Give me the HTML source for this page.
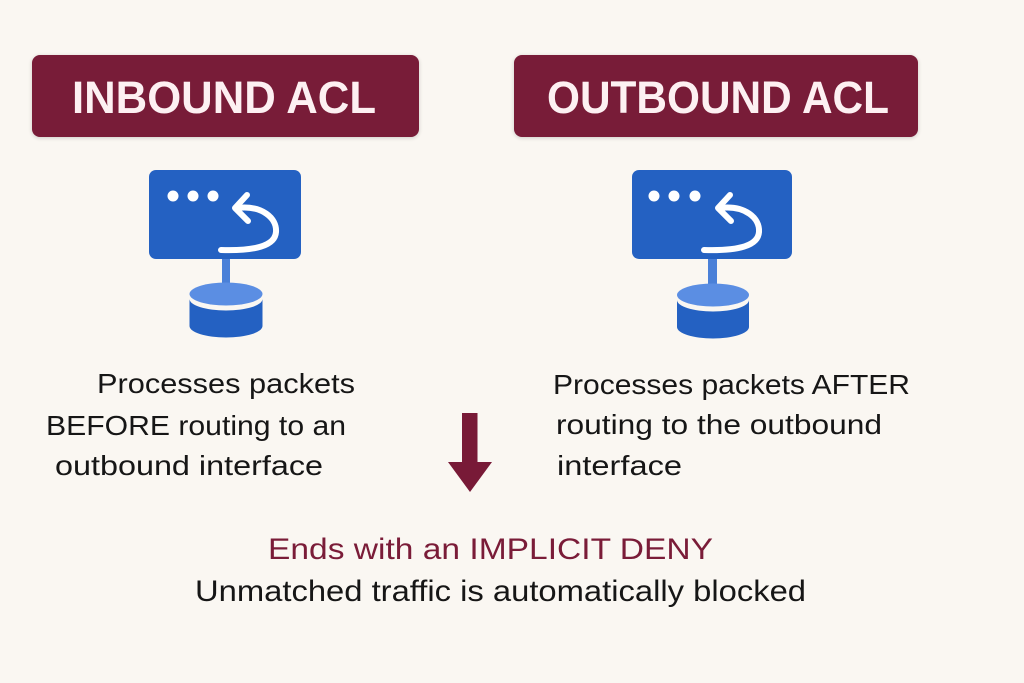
<!DOCTYPE html>
<html>
<head>
<meta charset="utf-8">
<style>
html,body{margin:0;padding:0;background:#faf7f2;}
svg{display:block;}
</style>
</head>
<body>
<svg width="1024" height="683" viewBox="0 0 1024 683" xmlns="http://www.w3.org/2000/svg">
  <defs>
    <filter id="sh" x="-5%" y="-10%" width="110%" height="130%">
      <feGaussianBlur in="SourceAlpha" stdDeviation="2"/>
      <feOffset dy="1"/>
      <feComponentTransfer><feFuncA type="linear" slope="0.18"/></feComponentTransfer>
      <feMerge><feMergeNode/><feMergeNode in="SourceGraphic"/></feMerge>
    </filter>
  </defs>
  <rect width="1024" height="683" fill="#faf7f2"/>

  <!-- Header boxes -->
  <rect x="32" y="55" width="387" height="82" rx="8" fill="#781a37" filter="url(#sh)"/>
  <text x="72" y="113" font-family="Liberation Sans, sans-serif" font-weight="bold" font-size="45" fill="#fdf0f2" textLength="304" lengthAdjust="spacingAndGlyphs">INBOUND ACL</text>

  <rect x="514" y="55" width="404" height="82" rx="8" fill="#781a37" filter="url(#sh)"/>
  <text x="547" y="113" font-family="Liberation Sans, sans-serif" font-weight="bold" font-size="45" fill="#fdf0f2" textLength="342" lengthAdjust="spacingAndGlyphs">OUTBOUND ACL</text>

  <!-- Left icon -->
  <rect x="222" y="255" width="8" height="33" fill="#4a80d8"/>
  <rect x="149" y="170" width="152" height="89" rx="7" fill="#2461c2"/>
  <circle cx="173" cy="196" r="5.5" fill="#fff"/>
  <circle cx="193" cy="196" r="5.5" fill="#fff"/>
  <circle cx="213" cy="196" r="5.5" fill="#fff"/>
  <path d="M237,208 C262,205 277,218 276,232 C275,246 255,251 221,250" fill="none" stroke="#fff" stroke-width="6" stroke-linecap="round"/>
  <path d="M247,195 L235,208 L248,221" fill="none" stroke="#fff" stroke-width="6" stroke-linecap="round" stroke-linejoin="round"/>
  <path d="M189.5,299 A36.5,11.5 0 0 0 262.5,299 L262.5,326 A36.5,11.5 0 0 1 189.5,326 Z" fill="#2461c2"/>
  <ellipse cx="226" cy="294" rx="36.5" ry="11.5" fill="#5b8ee3"/>

  <!-- Right icon -->
  <rect x="708" y="255" width="9" height="33" fill="#4a80d8"/>
  <rect x="632" y="170" width="160" height="89" rx="7" fill="#2461c2"/>
  <circle cx="654" cy="196" r="5.5" fill="#fff"/>
  <circle cx="674" cy="196" r="5.5" fill="#fff"/>
  <circle cx="695" cy="196" r="5.5" fill="#fff"/>
  <path d="M720,208 C745,205 760,218 759,232 C758,246 738,251 704,250" fill="none" stroke="#fff" stroke-width="6" stroke-linecap="round"/>
  <path d="M730,195 L718,208 L731,221" fill="none" stroke="#fff" stroke-width="6" stroke-linecap="round" stroke-linejoin="round"/>
  <path d="M677,300 A36,11.5 0 0 0 749,300 L749,327 A36,11.5 0 0 1 677,327 Z" fill="#2461c2"/>
  <ellipse cx="713" cy="295" rx="36" ry="11.5" fill="#5b8ee3"/>

  <!-- Left description -->
  <g font-family="Liberation Sans, sans-serif" font-size="28" fill="#161616">
    <text x="97" y="393" textLength="258" lengthAdjust="spacingAndGlyphs">Processes packets</text>
    <text x="46" y="435" textLength="300" lengthAdjust="spacingAndGlyphs">BEFORE routing to an</text>
    <text x="55" y="475" textLength="268" lengthAdjust="spacingAndGlyphs">outbound interface</text>

    <text x="553" y="394" textLength="357" lengthAdjust="spacingAndGlyphs">Processes packets AFTER</text>
    <text x="556" y="434" textLength="326" lengthAdjust="spacingAndGlyphs">routing to the outbound</text>
    <text x="557" y="475" textLength="125" lengthAdjust="spacingAndGlyphs">interface</text>
  </g>

  <!-- Down arrow -->
  <rect x="462" y="413" width="15.5" height="52" fill="#781a37"/>
  <polygon points="448,462 492,462 470,492" fill="#781a37"/>

  <!-- Bottom text -->
  <text x="268" y="559" font-family="Liberation Sans, sans-serif" font-size="30" fill="#7a1c38" textLength="445" lengthAdjust="spacingAndGlyphs">Ends with an IMPLICIT DENY</text>
  <text x="195" y="601" font-family="Liberation Sans, sans-serif" font-size="30" fill="#161616" textLength="611" lengthAdjust="spacingAndGlyphs">Unmatched traffic is automatically blocked</text>
</svg>
</body>
</html>
